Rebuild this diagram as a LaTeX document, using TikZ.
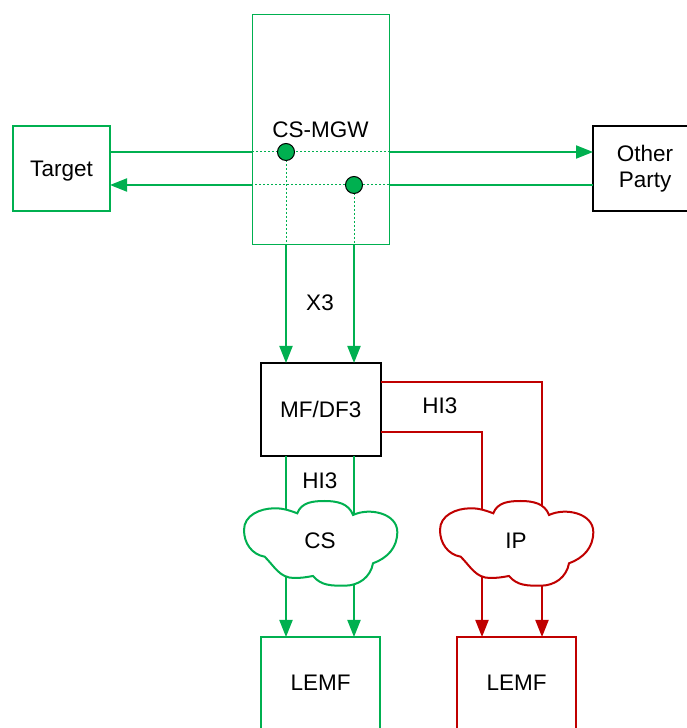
\documentclass[tikz,border=0pt]{standalone}
\usepackage{fontspec}
\setmainfont{Liberation Sans}
\usetikzlibrary{arrows.meta}
\definecolor{gr}{HTML}{00B050}
\definecolor{rd}{HTML}{C00000}
\begin{document}
\begin{tikzpicture}[x=1pt,y=1pt,
  lbl/.style={font=\fontsize{22.5}{26}\selectfont, inner sep=0pt},
  one/.style={text height=16pt, text depth=0pt},
  boxx/.style={lbl, line width=2pt, inner sep=0pt, outer sep=0pt, fill=white, align=center},
  gline/.style={draw=gr, line width=2pt},
  rline/.style={draw=rd, line width=2pt},
  gdot/.style={draw=gr, line width=1pt, dash pattern=on 2pt off 2pt},
  arr/.style={-{Triangle[length=17pt,width=13pt]}},
  cloudpic/.pic={\path[pic actions, line width=2pt]
    (-22.7,27.7) to[out=70,in=180] (4.7,40) to[out=0,in=110] (33,26)
    to[out=25,in=90] (77.3,9) to[out=270,in=20] (53,-22.3)
    to[out=-100,in=0] (24.7,-44.7) to[out=180,in=-50] (-7,-35)
    to[out=190,in=0] (-26,-37) to[out=180,in=-45] (-55.3,-15.7)
    to[out=170,in=270] (-76,11) to[out=90,in=180] (-45.3,32.7)
    to[out=0,in=160] (-22.7,27.7) -- cycle;}
]
\useasboundingbox (0,0) rectangle (687,728);

% boxes
\node[boxx, one, draw=gr, line width=1pt, fill=none, minimum width=137pt, minimum height=230pt] (mgw) at (320.5,598) {CS-MGW};
\node[boxx, one, draw=gr, minimum width=97pt, minimum height=85pt] (target) at (61.5,559.5) {Target};
\node[boxx, draw=black, minimum width=104pt, minimum height=85pt] (other) at (645,559.5) {Other\\Party};
\node[boxx, one, draw=black, minimum width=119.5pt, minimum height=93.5pt] (mfdf) at (320.75,318.25) {MF/DF3};
\node[boxx, one, draw=gr, minimum width=119pt, minimum height=92pt] (lemfa) at (320.5,45) {LEMF};
\node[boxx, one, draw=rd, minimum width=119pt, minimum height=92pt] (lemfb) at (516.5,45) {LEMF};

% helper coordinates
\coordinate (p1) at (286,576);
\coordinate (p2) at (354,543);
\coordinate (csc) at (320,187);
\coordinate (ipc) at (516,187);
\coordinate (r1) at (542,346);
\coordinate (r2) at (482,296);

% horizontal flows
\draw[gline] (target.east |- p1) -- (mgw.west |- p1);
\draw[gdot] (mgw.west |- p1) -- (mgw.east |- p1);
\draw[gline, arr] (mgw.east |- p1) -- (other.west |- p1);
\draw[gline] (other.west |- p2) -- (mgw.east |- p2);
\draw[gdot] (mgw.east |- p2) -- (mgw.west |- p2);
\draw[gline, arr] (mgw.west |- p2) -- (target.east |- p2);

% X3
\draw[gdot] (p1) -- (p1 |- mgw.south);
\draw[gdot] (p2) -- (p2 |- mgw.south);
\draw[gline, arr] (p1 |- mgw.south) -- (p1 |- mfdf.north);
\draw[gline, arr] (p2 |- mgw.south) -- (p2 |- mfdf.north);

% HI3 CS
\draw[gline] (p1 |- mfdf.south) -- (p1 |- csc);
\draw[gline] (p2 |- mfdf.south) -- (p2 |- csc);
\draw[gline, arr] (p1 |- csc) -- (p1 |- lemfa.north);
\draw[gline, arr] (p2 |- csc) -- (p2 |- lemfa.north);

% HI3 IP
\draw[rline] (mfdf.east |- r1) -- (r1) -- (r1 |- ipc);
\draw[rline] (mfdf.east |- r2) -- (r2) -- (r2 |- ipc);
\draw[rline, arr] (r1 |- ipc) -- (r1 |- lemfb.north);
\draw[rline, arr] (r2 |- ipc) -- (r2 |- lemfb.north);

% clouds
\pic[draw=gr, fill=white] at (csc) {cloudpic};
\pic[draw=rd, fill=white] at (ipc) {cloudpic};
\node[lbl, one] (cs) at (csc) {CS};
\node[lbl, one] (ip) at (ipc) {IP};

% dots
\node[circle, fill=gr, draw=black, line width=1pt, minimum size=17pt, inner sep=0pt] (d1) at (p1) {};
\node[circle, fill=gr, draw=black, line width=1pt, minimum size=17pt, inner sep=0pt] (d2) at (p2) {};

% labels
\node[lbl, one] (x3) at (320,425) {X3};
\node[lbl, one] (hi3a) at (320,247) {HI3};
\node[lbl, one] (hi3b) at (440,322) {HI3};
\end{tikzpicture}
\end{document}
